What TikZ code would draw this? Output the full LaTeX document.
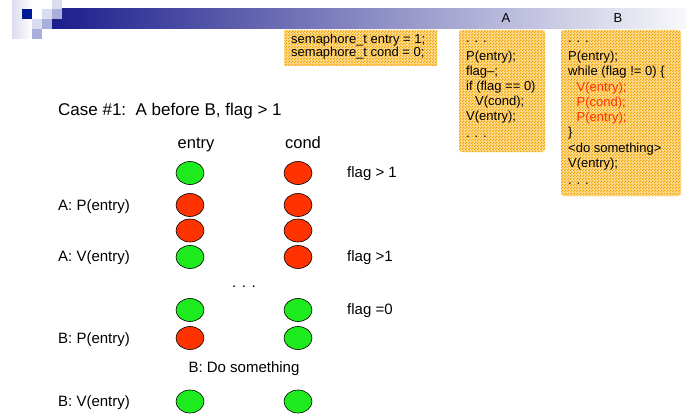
\documentclass[tikz,border=0pt]{standalone}
\usepackage{fontspec}
\setmainfont{Liberation Sans}
\usetikzlibrary{shapes.geometric,patterns}
\pgfdeclarepatternformonly{checkerpat}{\pgfpointorigin}{\pgfqpoint{3pt}{3pt}}{\pgfqpoint{3pt}{3pt}}{%
  \pgfpathrectangle{\pgfpointorigin}{\pgfqpoint{1.5pt}{1.5pt}}%
  \pgfpathrectangle{\pgfqpoint{1.5pt}{1.5pt}}{\pgfqpoint{1.5pt}{1.5pt}}%
  \pgfusepath{fill}}
\definecolor{navy}{RGB}{28,30,140}
\definecolor{midlav}{RGB}{180,182,212}
\definecolor{barend}{RGB}{248,248,251}
\definecolor{lightsq}{RGB}{218,220,240}
\definecolor{medsq}{RGB}{170,174,218}
\definecolor{darksq}{RGB}{0,24,150}
\definecolor{codebg}{RGB}{253,222,150}
\definecolor{codefg}{RGB}{244,162,0}
\definecolor{semgreen}{RGB}{30,235,30}
\definecolor{semred}{RGB}{255,51,0}
\definecolor{codered}{RGB}{255,51,0}
\begin{document}
\begin{tikzpicture}[x=1pt,y=-1pt,
  codebox/.style={fill=codebg, postaction={pattern=checkerpat, pattern color=codefg}},
  codetxt/.style={anchor=base west, inner sep=0pt, font=\fontsize{13}{15}\selectfont},
  lbl/.style={anchor=base west, inner sep=0pt, font=\fontsize{15}{18}\selectfont},
  clbl/.style={anchor=base, inner sep=0pt, font=\fontsize{15}{18}\selectfont},
  colhead/.style={anchor=base, inner sep=0pt, font=\fontsize{16.5}{19}\selectfont},
  light/.style={ellipse, draw=black, line width=0.6pt, minimum width=28pt, minimum height=23pt, inner sep=0pt},
  greenlight/.style={light, fill=semgreen},
  redlight/.style={light, fill=semred}]
\useasboundingbox (0,0) rectangle (686,420);
\fill[white] (0,0) rectangle (686,420);
% header decoration
\shade[left color=navy, middle color=midlav, right color=barend] (52,9) rectangle (686,29);
\shade[left color=lightsq, right color=white] (12,0) rectangle (32,39);
\fill[darksq] (22,9) rectangle (32,19);
\fill[lightsq] (32,19) rectangle (42,29);
\fill[lightsq] (42,9) rectangle (52,19);
\fill[lightsq] (52,0) rectangle (62,9);
\fill[medsq] (52,9) rectangle (62,19);
\fill[medsq] (42,19) rectangle (52,29);
\fill[medsq] (32,29) rectangle (42,39);
% code boxes
\path[codebox, rounded corners=1pt] (284,30) rectangle (437,66);
\path[codebox, rounded corners=3pt] (459,30) rectangle (545,152);
\path[codebox, rounded corners=3pt] (561,30) rectangle (681,196);
\node[codetxt] (s1) at (291,44) {semaphore\_t entry = 1;};
\node[codetxt] (s2) at (291,57) {semaphore\_t cond = 0;};
\node[anchor=base, inner sep=0pt, font=\fontsize{13}{15}\selectfont] (hA) at (506,22.5) {A};
\node[anchor=base, inner sep=0pt, font=\fontsize{13}{15}\selectfont] (hB) at (618,22.5) {B};
% box A
\node[codetxt] (a0) at (466,43) {. . .};
\node[codetxt] (a1) at (466,60.5) {P(entry);};
\node[codetxt] (a2) at (466,75.5) {flag--;};
\node[codetxt] (a3) at (466,90.5) {if (flag == 0)};
\node[codetxt] (a4) at (475,105.5) {V(cond);};
\node[codetxt] (a5) at (466,120.5) {V(entry);};
\node[codetxt] (a6) at (466,137) {. . .};
% box B
\node[codetxt] (b0) at (568,43) {. . .};
\node[codetxt] (b1) at (568,61) {P(entry);};
\node[codetxt] (b2) at (568,76) {while (flag != 0) \{};
\node[codetxt, text=codered] (b3) at (576.5,91.5) {V(entry);};
\node[codetxt, text=codered] (b4) at (576.5,106.5) {P(cond);};
\node[codetxt, text=codered] (b5) at (576.5,121.5) {P(entry);};
\node[codetxt] (b6) at (568,136.5) {\}};
\node[codetxt] (b7) at (568,152.5) {<do something>};
\node[codetxt] (b8) at (568,167.5) {V(entry);};
\node[codetxt] (b9) at (568,184) {. . .};
% title and headers
\node[anchor=base west, inner sep=0pt, font=\fontsize{17}{20}\selectfont] (title) at (58,116) {Case \#1:\ \ A before B, flag > 1};
\node[colhead] (hentry) at (196,148) {entry};
\node[colhead] (hcond) at (303,148) {cond};
% lights
\node[greenlight] (e1) at (190,173) {};
\node[redlight]   (c1) at (298,173) {};
\node[redlight]   (e2) at (190,205) {};
\node[redlight]   (c2) at (298,205) {};
\node[redlight]   (e3) at (190,230.5) {};
\node[redlight]   (c3) at (298,230.5) {};
\node[greenlight] (e4) at (190,257) {};
\node[redlight]   (c4) at (298,257) {};
\node[greenlight] (e5) at (190,310) {};
\node[greenlight] (c5) at (298,310) {};
\node[redlight]   (e6) at (190,338) {};
\node[greenlight] (c6) at (298,338) {};
\node[greenlight] (e7) at (190,401.5) {};
\node[greenlight] (c7) at (298,401.5) {};
% left labels
\node[lbl] (l2) at (58,210) {A: P(entry)};
\node[lbl] (l4) at (58,261.5) {A: V(entry)};
\node[lbl] (l6) at (58,343) {B: P(entry)};
\node[lbl] (l7) at (58,406.5) {B: V(entry)};
% right labels
\node[lbl] (r1) at (347,177.5) {flag > 1};
\node[lbl] (r4) at (347,261.5) {flag >1};
\node[lbl] (r5) at (347,314.5) {flag =0};
% middle texts
\node[clbl] (dots) at (244,287) {. . .};
\node[clbl] (dosth) at (244,372) {B: Do something};
\end{tikzpicture}
\end{document}
